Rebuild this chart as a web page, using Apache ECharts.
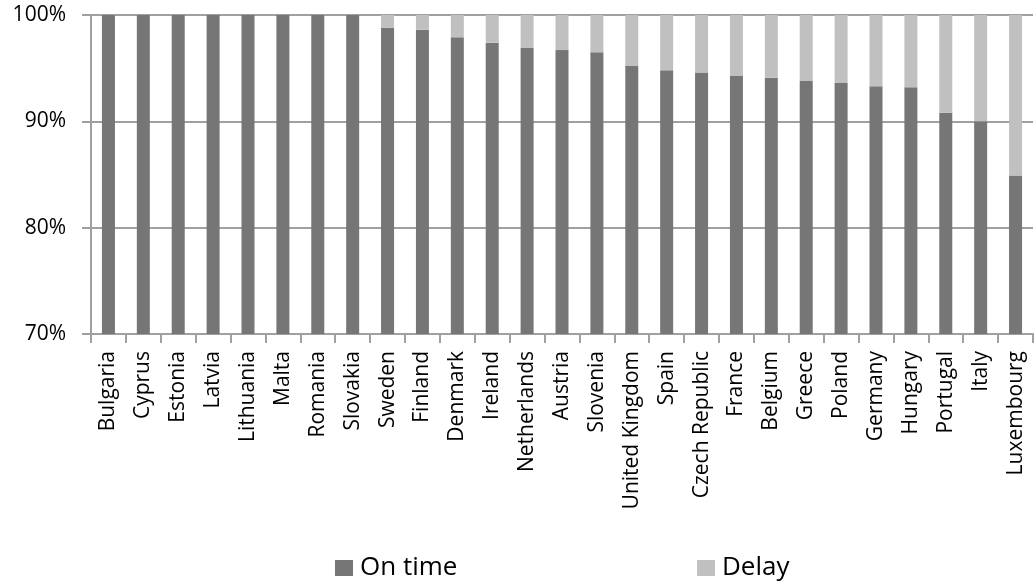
<!DOCTYPE html>
<html>
<head>
<meta charset="utf-8">
<script src="https://cdn.jsdelivr.net/npm/echarts@6/dist/echarts.min.js"></script>
<style>
  html, body { margin: 0; padding: 0; background: #fff; }
  #chart { width: 1035px; height: 587px; }
</style>
</head>
<body>
<div id="chart"></div>
<script>
// Countries, ordered by share of on-time payments
const countries = ['Bulgaria', 'Cyprus', 'Estonia', 'Latvia', 'Lithuania', 'Malta', 'Romania', 'Slovakia',
  'Sweden', 'Finland', 'Denmark', 'Ireland', 'Netherlands', 'Austria', 'Slovenia', 'United Kingdom',
  'Spain', 'Czech Republic', 'France', 'Belgium', 'Greece', 'Poland', 'Germany', 'Hungary',
  'Portugal', 'Italy', 'Luxembourg'];

// Percentage on time
const onTime = [100, 100, 100, 100, 100, 100, 100, 100,
  98.8, 98.6, 97.9, 97.4, 96.9, 96.7, 96.5, 95.2,
  94.8, 94.6, 94.3, 94.1, 93.8, 93.6, 93.3, 93.2,
  90.8, 90.0, 84.9];

// Percentage delayed (remainder to 100%)
const delay = onTime.map(v => +(100 - v).toFixed(1));

const yTicks = [70, 80, 90, 100];

const font = '"Open Sans", "Liberation Sans", sans-serif';
const axisGray = '#a0a0a0';
const chart = echarts.init(document.getElementById('chart'));

const legendText = { fontSize: 26, color: '#000', fontFamily: font, padding: [0, 0, 0, 2] };

chart.setOption({
  animation: false,
  textStyle: { fontFamily: font },
  grid: { left: 91, right: 2, top: 15, bottom: 253, containLabel: false },
  legend: [
    {
      data: ['On time'], left: 330, top: 550, itemWidth: 18, itemHeight: 16,
      textStyle: legendText, icon: 'rect'
    },
    {
      data: ['Delay'], left: 692, top: 550, itemWidth: 18, itemHeight: 16,
      textStyle: legendText, icon: 'rect'
    }
  ],
  xAxis: {
    type: 'category',
    data: countries,
    boundaryGap: true,
    axisLine: { lineStyle: { color: axisGray, width: 2 } },
    axisTick: { show: true, alignWithLabel: false, length: 9, lineStyle: { color: axisGray, width: 2 } },
    axisLabel: { rotate: 90, fontSize: 21, color: '#000', margin: 17, interval: 0, fontFamily: font }
  },
  yAxis: {
    type: 'value',
    min: yTicks[0],
    max: yTicks[yTicks.length - 1],
    interval: 10,
    axisLine: { show: true, lineStyle: { color: axisGray, width: 2 } },
    axisTick: { show: true, length: 9, lineStyle: { color: axisGray, width: 2 } },
    splitLine: { show: true, lineStyle: { color: axisGray, width: 2 } },
    axisLabel: { formatter: '{value}%', fontSize: 21, color: '#000', margin: 25, fontFamily: font }
  },
  series: [
    {
      name: 'On time', type: 'bar', stack: 'total', data: onTime, barWidth: 13,
      itemStyle: { color: '#767676' }
    },
    {
      name: 'Delay', type: 'bar', stack: 'total', data: delay, barWidth: 13,
      itemStyle: { color: '#c0c0c0' }
    }
  ]
});
</script>
</body>
</html>
